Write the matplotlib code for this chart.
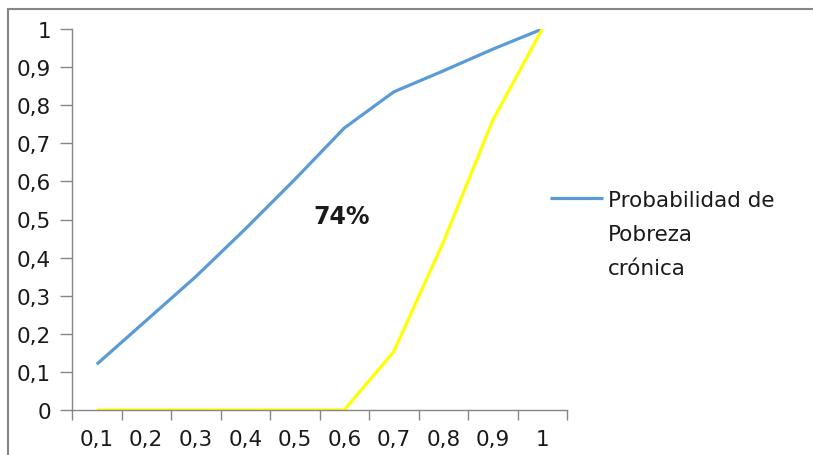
import matplotlib.pyplot as plt
import matplotlib
from matplotlib.patches import Rectangle
from matplotlib.legend_handler import HandlerLine2D

matplotlib.rcParams['font.family'] = ['DejaVu Sans']

# categorías del eje x y series
x_labels = ['0,1', '0,2', '0,3', '0,4', '0,5', '0,6', '0,7', '0,8', '0,9', '1']
prob_cronica = [0.12, 0.235, 0.35, 0.475, 0.605, 0.74, 0.835, 0.89, 0.947, 1.0]
serie_amarilla = [0, 0, 0, 0, 0, 0, 0.153, 0.44, 0.76, 1.0]
y_ticks = [0, 0.1, 0.2, 0.3, 0.4, 0.5, 0.6, 0.7, 0.8, 0.9, 1.0]
y_labels = ['0', '0,1', '0,2', '0,3', '0,4', '0,5', '0,6', '0,7', '0,8', '0,9', '1']


# la línea de la leyenda va a la altura de la primera línea del texto
class TopLineHandler(HandlerLine2D):
    def adjust_drawing_area(self, legend, orig_handle, xdescent, ydescent, width, height, fontsize):
        xd, yd, w, h = super().adjust_drawing_area(legend, orig_handle, xdescent, ydescent,
                                                   width, height, fontsize)
        return xd, yd - 52, w, h


W, H = 813, 456
fig = plt.figure(figsize=(W / 100, H / 100), dpi=100)
ax = fig.add_axes([72 / W, (H - 411) / H, (567 - 72) / W, (411 - 30) / H])

gray = '#868686'
x = list(range(len(x_labels)))
line_blue, = ax.plot(x, prob_cronica, color='#5B9BD5', linewidth=2.3, solid_capstyle='butt',
                     label='Probabilidad de\nPobreza\ncrónica')
ax.plot(x, serie_amarilla, color='#FFFF00', linewidth=2.3, solid_capstyle='butt')

ax.text(4.95, 0.51, '74%', fontsize=17, fontweight='bold', ha='center', va='center', color='#1a1a1a')

ax.set_xlim(-0.5, len(x_labels) - 0.5)
ax.set_ylim(0, 1)

# eje de categorías: marcas entre categorías, etiquetas centradas
ax.set_xticks([i - 0.5 for i in range(len(x_labels) + 1)])
ax.set_xticklabels([])
ax.set_xticks(x, minor=True)
ax.set_xticklabels(x_labels, minor=True, fontsize=15.5, color='#1a1a1a')
ax.tick_params(axis='x', which='major', length=7, color=gray, width=1)
ax.tick_params(axis='x', which='minor', length=0, pad=14)

ax.set_yticks(y_ticks)
ax.set_yticklabels(y_labels, fontsize=15.5, color='#1a1a1a')
ax.tick_params(axis='y', length=9, color=gray, width=1, pad=6)

for s in ['top', 'right']:
    ax.spines[s].set_visible(False)
for s in ['left', 'bottom']:
    ax.spines[s].set_color(gray)
    ax.spines[s].set_linewidth(1)

leg = ax.legend(handles=[line_blue], loc='upper left', bbox_to_anchor=(550 / W, (H - 191) / H),
                bbox_transform=fig.transFigure, frameon=False, fontsize=15.5,
                handlelength=2.45, handletextpad=0.23, borderpad=0, borderaxespad=0,
                handler_map={line_blue: TopLineHandler()})
for t in leg.get_texts():
    t.set_linespacing(1.88)
    t.set_color('#1a1a1a')

# borde exterior del área del gráfico
fig.patches.append(Rectangle((7.5 / W, -0.1), 1.2, (H - 9.5) / H + 0.1, transform=fig.transFigure,
                             fill=False, edgecolor=gray, linewidth=1.5))

plt.savefig('out.png', dpi=100, facecolor='white')
plt.close()
